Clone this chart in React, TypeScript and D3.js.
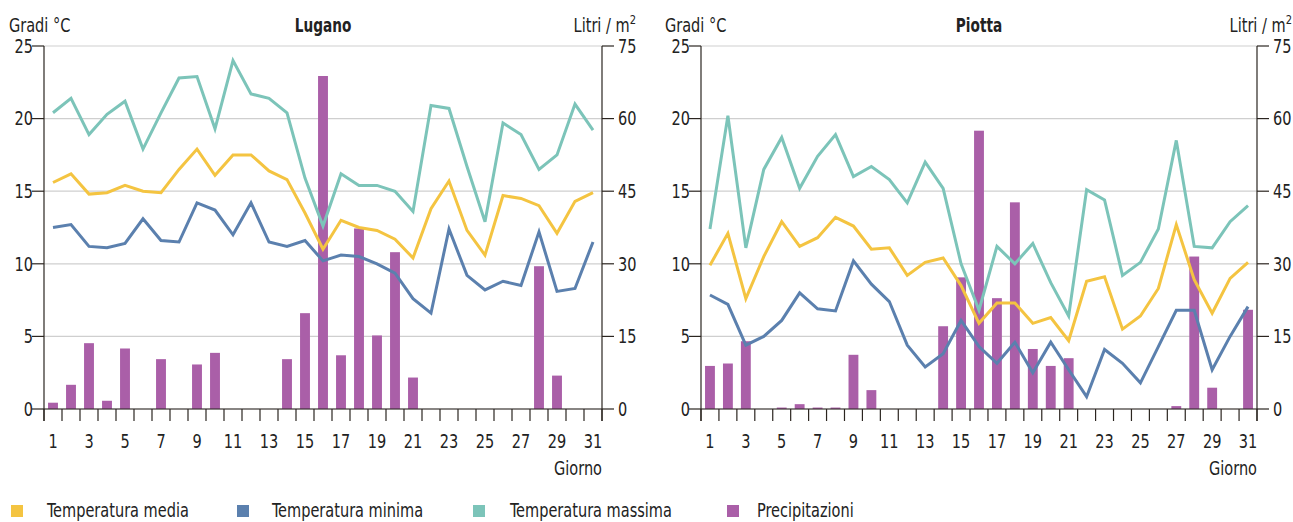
import React from "react";
import * as d3 from "d3";

const days = ["1","2","3","4","5","6","7","8","9","10","11","12","13","14","15","16","17","18","19","20","21","22","23","24","25","26","27","28","29","30","31"];
const dayLabels = ["1","3","5","7","9","11","13","15","17","19","21","23","25","27","29","31"];
const tempTicks = [0, 5, 10, 15, 20, 25];
const precTicks = [0, 15, 30, 45, 60, 75];

const luganoMedia = [15.6,16.2,14.8,14.9,15.4,15.0,14.9,16.5,17.9,16.1,17.5,17.5,16.4,15.8,13.5,11.0,13.0,12.5,12.3,11.7,10.4,13.8,15.7,12.3,10.6,14.7,14.5,14.0,12.1,14.3,14.9];
const luganoMinima = [12.5,12.7,11.2,11.1,11.4,13.1,11.6,11.5,14.2,13.7,12.0,14.2,11.5,11.2,11.6,10.2,10.6,10.5,10.0,9.35,7.6,6.6,12.4,9.2,8.2,8.8,8.5,12.2,8.1,8.3,11.5];
const luganoMassima = [20.4,21.4,18.9,20.3,21.2,17.9,20.4,22.8,22.9,19.3,24.0,21.7,21.4,20.4,15.9,12.6,16.2,15.4,15.4,15.0,13.6,20.9,20.7,16.7,12.9,19.7,18.9,16.5,17.5,21.0,19.2];
const luganoPrecip = [1.3,5.0,13.6,1.7,12.5,0,10.3,0,9.2,11.6,0,0,0,10.3,19.8,68.8,11.1,37.3,15.2,32.4,6.5,0,0,0,0,0,0,29.5,6.9,0,0];

const piottaMedia = [9.9,12.1,7.6,10.5,12.9,11.2,11.8,13.2,12.6,11.0,11.1,9.2,10.1,10.4,8.5,5.9,7.3,7.3,5.9,6.3,4.7,8.8,9.1,5.5,6.4,8.3,12.7,8.9,6.6,9.0,10.1];
const piottaMinima = [7.85,7.2,4.4,5.0,6.1,8.0,6.9,6.75,10.2,8.6,7.4,4.4,2.9,3.8,6.1,4.3,3.15,4.6,2.5,4.6,2.7,0.85,4.1,3.15,1.8,4.3,6.8,6.8,2.7,5.0,7.05];
const piottaMassima = [12.4,20.2,11.1,16.5,18.7,15.2,17.4,18.9,16.0,16.7,15.8,14.2,17.0,15.2,10.0,6.8,11.2,10.0,11.4,8.7,6.4,15.1,14.4,9.2,10.1,12.4,18.5,11.2,11.1,12.9,14.0];
const piottaPrecip = [8.9,9.4,14.0,0,0.3,1.0,0.3,0.3,11.2,3.9,0,0,0,17.1,27.2,57.5,22.9,42.7,12.4,8.9,10.5,0,0,0,0,0,0.6,31.5,4.4,0,20.5];

const legendItems = ["Temperatura media", "Temperatura minima", "Temperatura massima", "Precipitazioni"];

const C_MEDIA = "#f4c441";
const C_MIN = "#5b80ae";
const C_MAX = "#7cc4b9";
const C_PREC = "#aa5fa8";
const AXIS = "#2b2520";
const GRID = "#cfcfcf";
const TEXT = "#222";
const FONT = "'Liberation Sans Narrow', 'DejaVu Sans Condensed', 'Roboto Condensed', sans-serif";
const SX = 0.85;

type TProps = {
  x: number;
  y: number;
  anchor?: "start" | "middle" | "end";
  size?: number;
  sx?: number;
  bold?: boolean;
  dy?: string;
  children: React.ReactNode;
};

function T({ x, y, anchor = "start", size = 19, sx = SX, bold = false, dy, children }: TProps) {
  return (
    <text
      transform={`translate(${x},${y}) scale(${sx},1)`}
      textAnchor={anchor}
      fontSize={size}
      fontWeight={bold ? "bold" : "normal"}
      fill={TEXT}
      dy={dy}
    >
      {children}
    </text>
  );
}

type PanelProps = {
  title: string;
  x0: number;
  x1: number;
  media: number[];
  minima: number[];
  massima: number[];
  precip: number[];
  gradiX: number;
  litriX: number;
};

function Panel({ title, x0, x1, media, minima, massima, precip, gradiX, litriX }: PanelProps) {
  const yTop = 46;
  const yBot = 409;
  const x = d3.scaleBand<string>().domain(days).range([x0, x1]).paddingInner(0.45).paddingOuter(0.225);
  const xb = d3.scaleBand<string>().domain(days).range([x0, x1]);
  const yT = d3.scaleLinear().domain([0, 25]).range([yBot, yTop]);
  const yP = d3.scaleLinear().domain([0, 75]).range([yBot, yTop]);
  const line = d3
    .line<number>()
    .x((_, i) => (xb(days[i]) as number) + xb.bandwidth() / 2)
    .y((v) => yT(v));
  const boundaries = days.map((d) => xb(d) as number).concat([x1]);
  return (
    <g>
      {tempTicks.map((t) => (
        <line key={"g" + t} x1={x0} x2={x1} y1={yT(t)} y2={yT(t)} stroke={GRID} strokeWidth={1.2} />
      ))}
      {precip.map((v, i) => (
        <rect
          key={"b" + i}
          x={x(days[i]) as number}
          width={x.bandwidth()}
          y={yP(v)}
          height={yBot - yP(v)}
          fill={C_PREC}
        />
      ))}
      <path d={line(massima) || ""} fill="none" stroke={C_MAX} strokeWidth={3} />
      <path d={line(media) || ""} fill="none" stroke={C_MEDIA} strokeWidth={3} />
      <path d={line(minima) || ""} fill="none" stroke={C_MIN} strokeWidth={3} />
      <line x1={x0} x2={x0} y1={yTop} y2={yBot + 12} stroke={AXIS} strokeWidth={1.2} />
      <line x1={x1} x2={x1} y1={yTop} y2={yBot + 12} stroke={AXIS} strokeWidth={1.2} />
      <line x1={x0} x2={x1} y1={yBot} y2={yBot} stroke={AXIS} strokeWidth={1.2} />
      {boundaries.map((bx, i) => (
        <line key={"t" + i} x1={bx} x2={bx} y1={yBot} y2={yBot + 12} stroke={AXIS} strokeWidth={1.2} />
      ))}
      {tempTicks.map((t) => (
        <g key={"lt" + t}>
          <line x1={x0 - 12} x2={x0} y1={yT(t)} y2={yT(t)} stroke={AXIS} strokeWidth={1.2} />
          <T x={x0 - 11} y={yT(t)} dy="0.36em" anchor="end">{t}</T>
        </g>
      ))}
      {precTicks.map((t) => (
        <g key={"lp" + t}>
          <line x1={x1} x2={x1 + 12} y1={yP(t)} y2={yP(t)} stroke={AXIS} strokeWidth={1.2} />
          <T x={x1 + 16} y={yP(t)} dy="0.36em">{t}</T>
        </g>
      ))}
      {dayLabels.map((d) => (
        <T key={"dl" + d} x={(xb(d) as number) + xb.bandwidth() / 2} y={448} anchor="middle">{d}</T>
      ))}
      <T x={x1} y={475} anchor="end">Giorno</T>
      <T x={gradiX} y={32}>Gradi °C</T>
      <T x={(x0 + x1) / 2} y={32} anchor="middle" size={20} sx={0.76} bold>{title}</T>
      <T x={litriX} y={32} anchor="end">
        Litri / m<tspan dy={-8} fontSize={13}>2</tspan>
      </T>
    </g>
  );
}

export default function App() {
  const legendColors = [C_MEDIA, C_MIN, C_MAX, C_PREC];
  const legendSq = [11, 237, 473, 727];
  const legendTx = [47, 272, 510, 757];
  return (
    <svg
      width={1293}
      height={522}
      style={{ position: "absolute", left: 0, top: 0, background: "#fff", fontFamily: FONT }}
    >
      <Panel title="Lugano" x0={44} x1={602} media={luganoMedia} minima={luganoMinima} massima={luganoMassima} precip={luganoPrecip} gradiX={9} litriX={636} />
      <Panel title="Piotta" x0={701} x1={1257} media={piottaMedia} minima={piottaMinima} massima={piottaMassima} precip={piottaPrecip} gradiX={665} litriX={1292} />
      {legendItems.map((l, i) => (
        <g key={l}>
          <rect x={legendSq[i]} y={505} width={12} height={12} fill={legendColors[i]} />
          <T x={legendTx[i]} y={517}>{l}</T>
        </g>
      ))}
    </svg>
  );
}
